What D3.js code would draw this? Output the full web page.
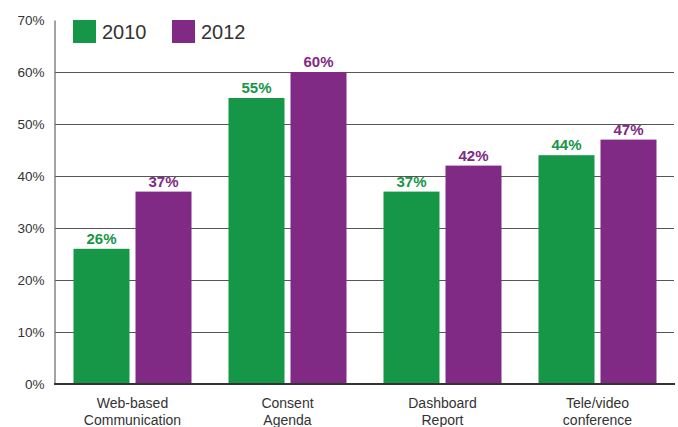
<!DOCTYPE html>
<html>
<head>
<meta charset="utf-8">
<script src="https://cdn.jsdelivr.net/npm/d3@7"></script>
<style>
  html, body { margin: 0; padding: 0; background: #fff; }
  svg { display: block; }
  text { font-family: "Liberation Sans", Arial, sans-serif; }
</style>
</head>
<body>
<script>
const categories = [["Web-based", "Communication"], ["Consent", "Agenda"], ["Dashboard", "Report"], ["Tele/video", "conference"]];
const seriesNames = ["2010", "2012"];
const values2010 = [26, 55, 37, 44];
const values2012 = [37, 60, 42, 47];
const yTicks = [0, 10, 20, 30, 40, 50, 60, 70];
const colors = ["#169647", "#812a85"];

const W = 678, H = 427;
const svg = d3.select("body").append("svg").attr("width", W).attr("height", H);

const x0 = d3.scaleBand().domain(d3.range(categories.length)).range([55, 675])
  .paddingInner(37 / 155).paddingOuter(37 / 310);
const x1 = d3.scaleBand().domain(seriesNames).range([0, x0.bandwidth()])
  .paddingInner(6 / 62).paddingOuter(0);
const y = d3.scaleLinear().domain([0, 70]).range([384, 20]);

// gridlines
svg.append("g").selectAll("line").data(yTicks.filter(t => t > 0 && t < 70)).join("line")
  .attr("x1", 55).attr("x2", 674)
  .attr("y1", d => Math.round(y(d)) + 0.5).attr("y2", d => Math.round(y(d)) + 0.5)
  .attr("stroke", "#555").attr("stroke-width", 1.2);

// y axis
const yAxis = d3.axisLeft(y).tickValues(yTicks).tickFormat(d => d + "%").tickSize(0).tickPadding(10);
const gy = svg.append("g").attr("transform", "translate(54.5,0)").call(yAxis);
gy.select(".domain").attr("stroke", "#666").attr("stroke-width", 1.2);
gy.selectAll("text").attr("font-size", 13.5).attr("fill", "#333");

// bars
const data = categories.map((c, i) => [values2010[i], values2012[i]]);
const groups = svg.append("g").selectAll("g").data(data).join("g")
  .attr("transform", (d, i) => `translate(${x0(i)},0)`);
groups.selectAll("rect").data(d => d.map((v, j) => ({ v, s: seriesNames[j], j }))).join("rect")
  .attr("x", d => x1(d.s)).attr("width", x1.bandwidth())
  .attr("y", d => y(d.v)).attr("height", d => y(0) - y(d.v))
  .attr("fill", d => colors[d.j]);
groups.selectAll("text.val").data(d => d.map((v, j) => ({ v, s: seriesNames[j], j }))).join("text")
  .attr("class", "val")
  .attr("x", d => x1(d.s) + x1.bandwidth() / 2).attr("y", d => y(d.v) - 5)
  .attr("text-anchor", "middle").attr("font-size", 15).attr("font-weight", "bold")
  .attr("fill", d => colors[d.j]).text(d => d.v + "%");

// x axis
const xAxis = d3.axisBottom(x0).tickSize(0).tickFormat("");
const gx = svg.append("g").attr("transform", `translate(0,${y(0)})`).call(xAxis);
gx.select(".domain").attr("d", "M54,0H675").attr("stroke", "#333").attr("stroke-width", 2);

const labels = svg.append("g").selectAll("text").data(categories).join("text")
  .attr("x", (d, i) => x0(i) + x0.bandwidth() / 2).attr("y", 408)
  .attr("text-anchor", "middle").attr("font-size", 14).attr("fill", "#333");
labels.selectAll("tspan").data(d => d).join("tspan")
  .attr("x", function () { return d3.select(this.parentNode).attr("x"); })
  .attr("dy", (d, i) => i === 0 ? 0 : 17).text(d => d);

// legend
const legend = svg.append("g").selectAll("g").data(seriesNames).join("g")
  .attr("transform", (d, i) => `translate(${73 + i * 99},20)`);
legend.append("rect").attr("width", 23).attr("height", 23).attr("fill", (d, i) => colors[i]);
legend.append("text").attr("x", 29).attr("y", 19).attr("font-size", 20).attr("fill", "#333").text(d => d);
</script>
</body>
</html>
